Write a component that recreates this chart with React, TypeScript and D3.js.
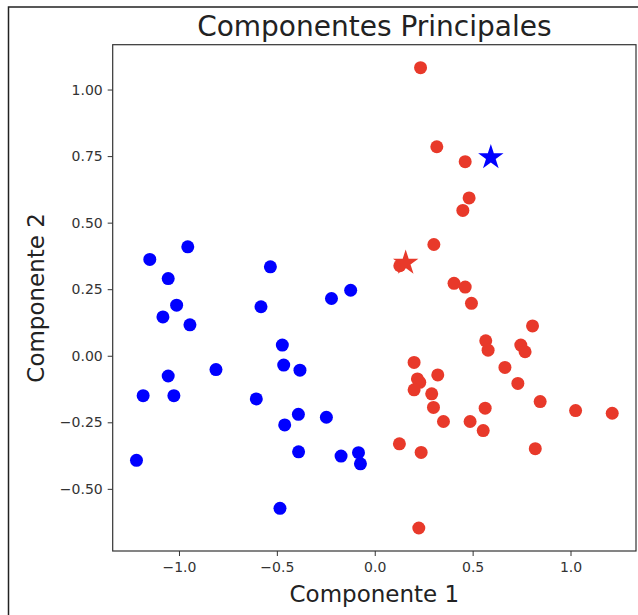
import { useEffect, useRef } from 'react';
import * as d3 from 'd3';

// PCA scores
const groupA_x = [-1.149, -0.955, -1.055, -1.012, -1.082, -0.944, -0.533, -0.581, -0.123, -0.221, -0.472, -0.465, -0.382, -0.811, -1.055, -1.183, -1.026, -0.605, -0.39, -0.247, -0.46, -0.389, -0.172, -0.083, -0.073, -1.217, -0.484];
const groupA_y = [0.362, 0.409, 0.29, 0.19, 0.146, 0.116, 0.334, 0.184, 0.246, 0.215, 0.04, -0.035, -0.054, -0.052, -0.076, -0.15, -0.15, -0.162, -0.22, -0.231, -0.26, -0.361, -0.377, -0.364, -0.406, -0.393, -0.573];

const groupB_x = [0.234, 0.317, 0.462, 0.482, 0.45, 0.302, 0.405, 0.462, 0.494, 0.806, 0.567, 0.579, 0.746, 0.768, 0.201, 0.218, 0.23, 0.201, 0.322, 0.665, 0.731, 0.291, 0.3, 0.351, 0.564, 0.487, 0.554, 0.845, 1.026, 1.213, 0.126, 0.237, 0.82, 0.225, 0.128];
const groupB_y = [1.082, 0.785, 0.729, 0.593, 0.546, 0.418, 0.272, 0.258, 0.197, 0.112, 0.056, 0.021, 0.04, 0.015, -0.025, -0.087, -0.1, -0.128, -0.072, -0.044, -0.104, -0.143, -0.194, -0.247, -0.197, -0.247, -0.281, -0.172, -0.206, -0.216, -0.331, -0.363, -0.349, -0.647, 0.338];

// centroids (stars)
const centroidA = [0.593, 0.745];
const centroidB = [0.158, 0.349];

const xTicks = [-1.0, -0.5, 0.0, 0.5, 1.0];
const yTicks = [-0.5, -0.25, 0, 0.25, 0.5, 0.75, 1.0];

const BLUE = '#0000ff';
const RED = '#e8392a';

const W = 638;
const H = 615;
const margin = { top: 44.7, right: 2, bottom: 64, left: 112.7 };

const fmtMinus = (s: string) => s.replace('-', '\u2212');

const App = () => {
  const svgRef = useRef<SVGSVGElement | null>(null);

  useEffect(() => {
    const svg = d3.select(svgRef.current);
    svg.selectAll('*').remove();

    const innerW = W - margin.left - margin.right;
    const innerH = H - margin.top - margin.bottom;

    // matplotlib-like autoscale with 5% margins
    const allX = [...groupA_x, ...groupB_x];
    const allY = [...groupA_y, ...groupB_y];
    const [x0, x1] = d3.extent(allX) as [number, number];
    const [y0, y1] = d3.extent(allY) as [number, number];
    const px = (x1 - x0) * 0.05;
    const py = (y1 - y0) * 0.05;

    const xScale = d3.scaleLinear().domain([x0 - px, x1 + px]).range([0, innerW]);
    const yScale = d3.scaleLinear().domain([y0 - py, y1 + py]).range([innerH, 0]);

    svg.append('rect').attr('width', W).attr('height', H).attr('fill', '#fff');

    // outer frame of the screenshot
    svg.append('path')
      .attr('d', `M8.5,${H} L8.5,7 L${W},7`)
      .attr('fill', 'none')
      .attr('stroke', '#222')
      .attr('stroke-width', 1.5);

    const g = svg.append('g').attr('transform', `translate(${margin.left},${margin.top})`);

    // points
    const groups = [
      { xs: groupA_x, ys: groupA_y, color: BLUE },
      { xs: groupB_x, ys: groupB_y, color: RED },
    ];
    groups.forEach(grp => {
      g.append('g')
        .selectAll('circle')
        .data(grp.xs.map((x, i) => [x, grp.ys[i]]))
        .enter()
        .append('circle')
        .attr('cx', d => xScale(d[0]))
        .attr('cy', d => yScale(d[1]))
        .attr('r', 6.5)
        .attr('fill', grp.color);
    });

    // stars
    const star = d3.symbol().type(d3.symbolStar).size(200);
    [
      { c: centroidA, color: BLUE },
      { c: centroidB, color: RED },
    ].forEach(s => {
      g.append('path')
        .attr('d', star() as string)
        .attr('transform', `translate(${xScale(s.c[0])},${yScale(s.c[1])})`)
        .attr('fill', s.color);
    });

    // axes
    const xAxis = g.append('g')
      .attr('transform', `translate(0,${innerH})`)
      .call(d3.axisBottom(xScale).tickValues(xTicks).tickSize(5).tickPadding(6).tickFormat(d => fmtMinus(d3.format('.1f')(d as number))));
    const yAxis = g.append('g')
      .call(d3.axisLeft(yScale).tickValues(yTicks).tickSize(5).tickPadding(5).tickFormat(d => fmtMinus(d3.format('.2f')(d as number))));

    [xAxis, yAxis].forEach(ax => {
      ax.select('.domain').remove();
      ax.selectAll('line').attr('stroke', '#333');
      ax.selectAll('text')
        .attr('font-family', 'DejaVu Sans, sans-serif')
        .attr('font-size', 14)
        .attr('fill', '#333');
    });

    // spines
    g.append('rect')
      .attr('width', innerW)
      .attr('height', innerH)
      .attr('fill', 'none')
      .attr('stroke', '#333')
      .attr('stroke-width', 1.2);

    // title and labels
    svg.append('text')
      .attr('x', margin.left + innerW / 2)
      .attr('y', 36)
      .attr('text-anchor', 'middle')
      .attr('font-family', 'DejaVu Sans, sans-serif')
      .attr('font-size', 28)
      .attr('fill', '#222')
      .text('Componentes Principales');

    svg.append('text')
      .attr('x', margin.left + innerW / 2)
      .attr('y', 602)
      .attr('text-anchor', 'middle')
      .attr('font-family', 'DejaVu Sans, sans-serif')
      .attr('font-size', 23)
      .attr('fill', '#222')
      .text('Componente 1');

    svg.append('text')
      .attr('transform', `translate(44,${margin.top + innerH / 2}) rotate(-90)`)
      .attr('text-anchor', 'middle')
      .attr('font-family', 'DejaVu Sans, sans-serif')
      .attr('font-size', 23)
      .attr('fill', '#222')
      .text('Componente 2');
  }, []);

  return (
    <svg
      ref={svgRef}
      width={W}
      height={H}
      style={{ position: 'absolute', left: 0, top: 0 }}
    />
  );
};

export default App;
